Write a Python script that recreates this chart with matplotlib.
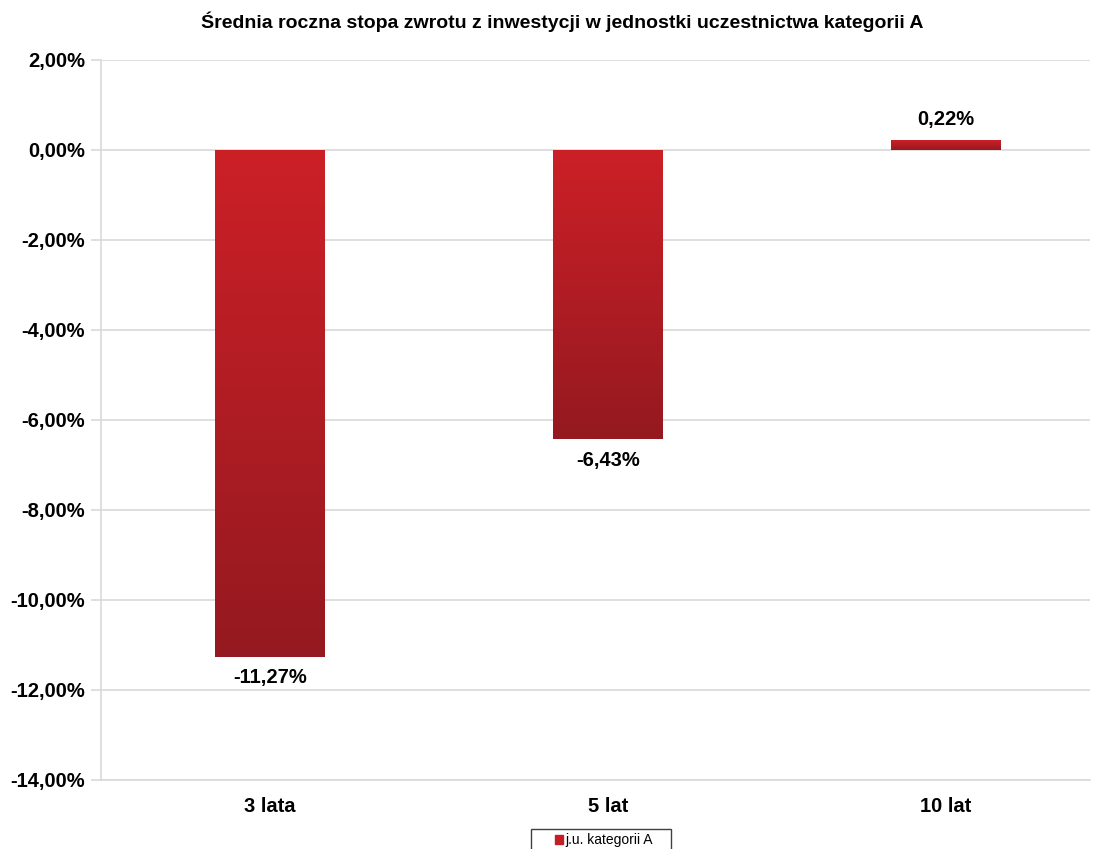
import numpy as np
import matplotlib
matplotlib.use("Agg")
import matplotlib.pyplot as plt
from matplotlib.colors import LinearSegmentedColormap
from matplotlib.patches import Patch, Rectangle

categories = ["3 lata", "5 lat", "10 lat"]
values = [-11.27, -6.43, 0.22]
labels = ["-11,27%", "-6,43%", "0,22%"]
series_name = "j.u. kategorii A"
title = "Średnia roczna stopa zwrotu z inwestycji w jednostki uczestnictwa kategorii A"
yticks = [2, 0, -2, -4, -6, -8, -10, -12, -14]

plt.rcParams['font.family'] = ['Liberation Sans', 'DejaVu Sans']

W, H = 1103, 849
fig = plt.figure(figsize=(W / 100, H / 100), dpi=100)
ax = fig.add_axes([101 / W, 1 - 780 / H, (1090 - 101) / W, (780 - 60) / H])

x = np.arange(len(categories))
bars = ax.bar(x, values, width=0.325, color="#c51f26", zorder=2)

cmap = LinearSegmentedColormap.from_list("g", ["#cc2027", "#951920"])
grad = np.linspace(0, 1, 256).reshape(-1, 1)
for b in bars:
    bx, by = b.get_x(), b.get_y()
    w, h = b.get_width(), b.get_height()
    y0, y1 = min(by, by + h), max(by, by + h)
    im = ax.imshow(grad, cmap=cmap, aspect="auto", extent=[bx, bx + w, y0, y1],
                   origin="upper", zorder=3)
    im.set_clip_path(b)
    b.set_facecolor("none")

for xi, v, lab in zip(x, values, labels):
    if v < 0:
        ax.text(xi, v - 0.25, lab, ha="center", va="top", fontsize=14.5, fontweight="bold")
    else:
        ax.text(xi, v + 0.25, lab, ha="center", va="bottom", fontsize=14.5, fontweight="bold")

ax.set_xlim(-0.5, 2.426)
ax.set_ylim(-14, 2)
ax.set_yticks(yticks)
ax.set_yticklabels([f"{t:.2f}".replace(".", ",") + "%" for t in yticks],
                   fontsize=14.5, fontweight="bold")
ax.set_xticks(x)
ax.set_xticklabels(categories, fontsize=14.5, fontweight="bold")
ax.tick_params(axis="x", length=0, pad=12)
ax.tick_params(axis="y", length=7, width=1.2, color="#d9d9d9", pad=4.5)
ax.grid(axis="y", color="#d9d9d9", linewidth=1.2, zorder=0)
ax.set_axisbelow(True)
for s in ["top", "right"]:
    ax.spines[s].set_visible(False)
for s in ["left", "bottom"]:
    ax.spines[s].set_color("#d9d9d9")
    ax.spines[s].set_linewidth(1.2)

fig.text(562 / W, 1 - 22 / H, title, ha="center", va="center", fontsize=14, fontweight="bold")

fig.patches.append(Rectangle((531 / W, -0.01), 140 / W, 0.01 + (849 - 829) / H,
                             transform=fig.transFigure, facecolor="white",
                             edgecolor="#404040", linewidth=1))
leg = fig.legend(handles=[Patch(color="#c51f26", label=series_name)],
                 loc="center", bbox_to_anchor=(604 / W, 1 - 840 / H),
                 fontsize=10, frameon=False, handlelength=0.6,
                 handleheight=0.6, handletextpad=0.2, borderpad=0.1)

fig.savefig("out.png", dpi=100)
